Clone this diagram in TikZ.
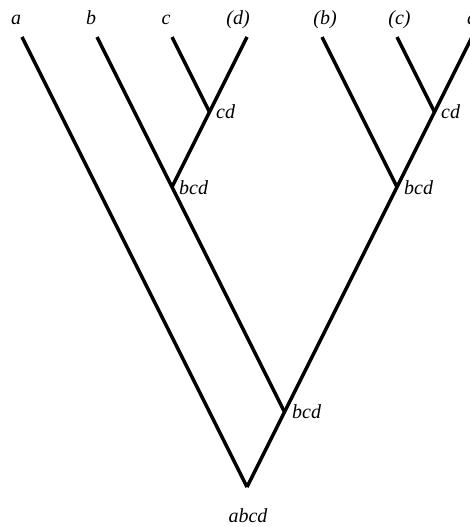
\documentclass[tikz,border=0pt]{standalone}
\usepackage{fontspec}
\setmainfont{Liberation Serif}
\begin{document}
\begin{tikzpicture}[x=1pt,y=-1pt,
  branch/.style={line width=3.5pt,line cap=butt,line join=miter},
  lab/.style={font=\fontsize{20}{20}\selectfont\itshape,inner sep=0pt},
  leaflab/.style={lab,anchor=base},
  junclab/.style={lab,anchor=west}]
\useasboundingbox (0,0) rectangle (470,527);
% leaf tips
\coordinate (ta) at (22,37);
\coordinate (tb) at (97,37);
\coordinate (tc) at (172,37);
\coordinate (td1) at (247,37);
\coordinate (tb2) at (322,37);
\coordinate (tc2) at (397,37);
\coordinate (td2) at (472,37);
% junctions
\coordinate (cd1) at (209.5,112);
\coordinate (bcd1) at (172,187);
\coordinate (cd2) at (434.5,112);
\coordinate (bcd2) at (397,187);
\coordinate (bcd3) at (284.5,412);
\coordinate (root) at (247,487);
% leaf labels
\node[leaflab] (la) at (16,25) {a};
\node[leaflab] (lb) at (91,25) {b};
\node[leaflab] (lc) at (166,25) {c};
\node[leaflab] (ld1) at (238,25) {(d)};
\node[leaflab] (lb2) at (325,25) {(b)};
\node[leaflab] (lc2) at (399.5,25) {(c)};
\node[leaflab] (ld2) at (472,25) {d};
% junction labels
\node[junclab] (lcd1) at (216,112) {cd};
\node[junclab] (lbcd1) at (179,188) {bcd};
\node[junclab] (lcd2) at (441,112) {cd};
\node[junclab] (lbcd2) at (404,188) {bcd};
\node[junclab] (lbcd3) at (292,412) {bcd};
\node[lab,anchor=base] (labcd) at (248,522) {abcd};
% branches
\draw[branch] (ta) -- (root);
\draw[branch] (td2) -- (root);
\draw[branch] (tb) -- (bcd3);
\draw[branch] (td1) -- (bcd1);
\draw[branch] (tc) -- (cd1);
\draw[branch] (tb2) -- (bcd2);
\draw[branch] (tc2) -- (cd2);
\end{tikzpicture}
\end{document}
